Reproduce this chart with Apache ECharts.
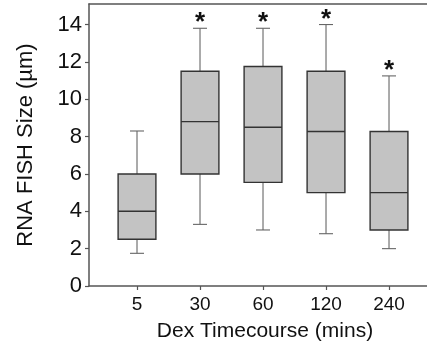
<!DOCTYPE html>
<html>
<head>
<meta charset="utf-8">
<script src="https://cdn.jsdelivr.net/npm/echarts@6/dist/echarts.min.js"></script>
<style>
  html, body { margin: 0; padding: 0; background: #fff; }
  #chart { width: 427px; height: 349px; }
</style>
</head>
<body>
<div id="chart"></div>
<script>
// values
const categories = ['5', '30', '60', '120', '240']
const whiskerLow = [1.75, 3.3, 3.0, 2.8, 2.0]
const q1 = [2.5, 6.0, 5.55, 5.0, 3.0]
const median = [4.0, 8.8, 8.5, 8.27, 5.0]
const q3 = [6.0, 11.5, 11.75, 11.5, 8.27]
const whiskerHigh = [8.3, 13.8, 13.8, 14.0, 11.25]
const significant = [0, 1, 1, 1, 1]
const yTicks = [0, 2, 4, 6, 8, 10, 12, 14]
const xPositions = [1, 2, 3, 4, 5]

const font = 'Liberation Sans, Arial, sans-serif'
const axisColor = '#555'

const seriesData = xPositions.map((x, i) => [x, whiskerLow[i], q1[i], median[i], q3[i], whiskerHigh[i], significant[i]])

function renderItem(params, api) {
  const x = api.value(0)
  const pLow = api.coord([x, api.value(1)])
  const pQ1 = api.coord([x, api.value(2)])
  const pMed = api.coord([x, api.value(3)])
  const pQ3 = api.coord([x, api.value(4)])
  const pHigh = api.coord([x, api.value(5)])
  const boxW = api.size([1, 0])[0] * 0.6
  const half = boxW / 2
  const cap = 7
  const cx = pMed[0]
  const whiskerStyle = { stroke: '#666', lineWidth: 1.1 }
  const boxStroke = '#333'
  const children = [
    { type: 'line', shape: { x1: cx, y1: pLow[1], x2: cx, y2: pQ1[1] }, style: whiskerStyle },
    { type: 'line', shape: { x1: cx, y1: pQ3[1], x2: cx, y2: pHigh[1] }, style: whiskerStyle },
    { type: 'line', shape: { x1: cx - cap, y1: pLow[1], x2: cx + cap, y2: pLow[1] }, style: whiskerStyle },
    { type: 'line', shape: { x1: cx - cap, y1: pHigh[1], x2: cx + cap, y2: pHigh[1] }, style: whiskerStyle },
    {
      type: 'rect',
      shape: { x: cx - half, y: pQ3[1], width: boxW, height: pQ1[1] - pQ3[1] },
      style: { fill: '#c3c3c3', stroke: boxStroke, lineWidth: 1.4 }
    },
    { type: 'line', shape: { x1: cx - half, y1: pMed[1], x2: cx + half, y2: pMed[1] }, style: { stroke: boxStroke, lineWidth: 1.4 } }
  ]
  if (api.value(6)) {
    // significance star above the upper whisker
    children.push({
      type: 'text',
      x: cx,
      y: pHigh[1] + 8,
      style: {
        text: '*',
        fill: '#111',
        font: 'bold 26px ' + font,
        align: 'center',
        verticalAlign: 'bottom'
      }
    })
  }
  return { type: 'group', children: children }
}

const chart = echarts.init(document.getElementById('chart'))
const option = {
  animation: false,
  grid: { left: 89, right: 0, top: 4, bottom: 63 },
  xAxis: [
    {
      type: 'value',
      min: 0.238,
      max: 5.603,
      name: 'Dex Timecourse (mins)',
      nameLocation: 'middle',
      nameGap: 35,
      nameTextStyle: { fontFamily: font, fontSize: 21, color: '#111', padding: [0, 0, 0, 14] },
      splitLine: { show: false },
      axisLine: { lineStyle: { color: axisColor, width: 1.5 } },
      axisTick: { customValues: xPositions, length: 4, lineStyle: { color: axisColor, width: 1.2 } },
      axisLabel: {
        customValues: xPositions,
        margin: 9,
        fontFamily: font,
        fontSize: 19,
        color: '#111',
        formatter: v => categories[Math.round(v) - 1]
      }
    },
    {
      type: 'value',
      position: 'top',
      min: 0.238,
      max: 5.603,
      splitLine: { show: false },
      axisLine: { show: true, lineStyle: { color: axisColor, width: 1.5 } },
      axisTick: { show: false },
      axisLabel: { show: false }
    }
  ],
  yAxis: {
    type: 'value',
    min: 0,
    max: 15.1,
    name: 'RNA FISH Size (µm)',
    nameLocation: 'middle',
    nameGap: 52,
    nameTextStyle: { fontFamily: font, fontSize: 22, color: '#111' },
    splitLine: { show: false },
    axisLine: { show: true, lineStyle: { color: axisColor, width: 1.5 } },
    axisTick: { customValues: yTicks, length: 4, lineStyle: { color: axisColor, width: 1.2 } },
    axisLabel: { customValues: yTicks, margin: 7, fontFamily: font, fontSize: 22, color: '#111' }
  },
  series: [
    {
      type: 'custom',
      renderItem: renderItem,
      data: seriesData,
      encode: { x: 0, y: [1, 2, 3, 4, 5] },
      clip: false
    }
  ]
}
chart.setOption(option)
</script>
</body>
</html>
